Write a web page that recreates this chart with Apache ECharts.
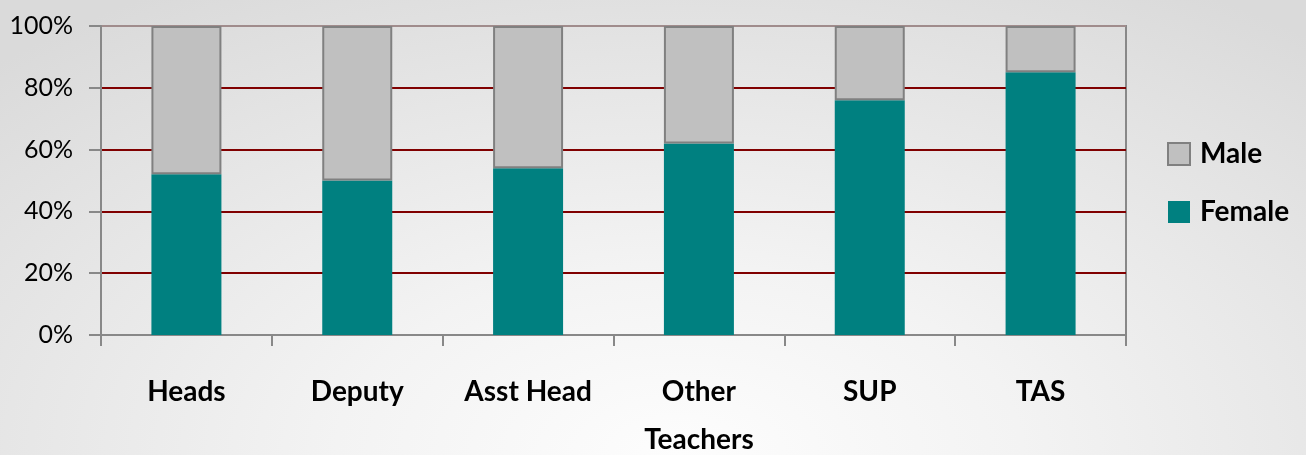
<!DOCTYPE html>
<html><head><meta charset="utf-8">
<script src="https://cdn.jsdelivr.net/npm/echarts@6/dist/echarts.min.js"></script>
<style>
html,body{margin:0;padding:0;width:1306px;height:455px;overflow:hidden;
background:radial-gradient(ellipse 75% 120% at 52% 100%, #fdfdfd 0%, #f3f3f3 35%, #dadada 100%);}
#c{width:1306px;height:455px;}
</style>
</head><body><div id="c"></div>
<script>
const categories = ['Heads', 'Deputy', 'Asst Head', 'Other\nTeachers', 'SUP', 'TAS'];
const female = [52, 50, 54, 62, 76, 85];
const male = [48, 50, 46, 38, 24, 15];
const seriesNames = ['Female', 'Male'];

const FONT = 'Lato, "Open Sans", sans-serif';
const chart = echarts.init(document.getElementById('c'), null, {renderer: 'canvas'});
chart.setOption({
  backgroundColor: 'transparent',
  animation: false,
  textStyle: {fontFamily: FONT},
  grid: {left: 101, right: 180, top: 26, bottom: 120, containLabel: false, outerBoundsMode: 'none',
         show: true, borderColor: '#888', borderWidth: 2, backgroundColor: 'transparent'},
  legend: {
    orient: 'vertical', left: 1162, top: 135, itemWidth: 22, itemHeight: 22, itemGap: 30,
    icon: 'rect',
    data: ['Male', 'Female'],
    textStyle: {fontFamily: FONT, fontWeight: 'bold', fontSize: 28, color: '#000', padding: [0, 0, 0, 5]}
  },
  xAxis: {
    type: 'category', data: categories,
    axisLine: {lineStyle: {color: '#888', width: 2}},
    axisTick: {show: true, length: 11, lineStyle: {color: '#888', width: 2}},
    axisLabel: {margin: 33, color: '#000', fontFamily: FONT, fontWeight: 'bold', fontSize: 28, lineHeight: 48, interval: 0}
  },
  yAxis: {
    type: 'value', min: 0, max: 100, interval: 20,
    axisLine: {show: true, lineStyle: {color: '#888', width: 2}},
    axisTick: {show: true, length: 12, lineStyle: {color: '#888', width: 2}},
    axisLabel: {formatter: '{value}%', margin: 28, color: '#000', fontFamily: FONT, fontSize: 25},
    splitLine: {lineStyle: {color: ['#800000', '#800000', '#800000', '#800000', '#800000', '#a08c8c'], width: 2}}
  },
  series: [
    {name: seriesNames[0], type: 'bar', stack: 'a', data: female, barWidth: 70,
     itemStyle: {color: '#008080', borderWidth: 0}},
    {name: seriesNames[1], type: 'bar', stack: 'a', data: male, barWidth: 70,
     itemStyle: {color: '#c0c0c0', borderColor: '#808080', borderWidth: 2}}
  ]
});
</script>
</body></html>
